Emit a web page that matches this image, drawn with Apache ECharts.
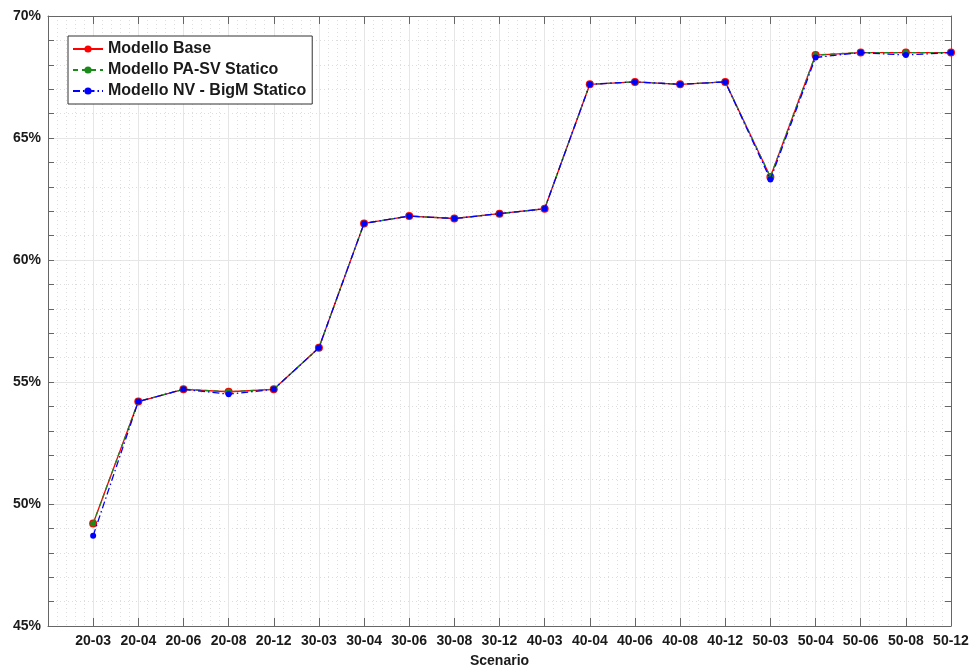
<!DOCTYPE html>
<html>
<head>
<meta charset="utf-8">
<script src="https://cdn.jsdelivr.net/npm/echarts@6/dist/echarts.min.js"></script>
<style>html,body{margin:0;padding:0;background:#fff;}#c{width:972px;height:668px;}</style>
</head>
<body>
<div id="c"></div>
<script>
const categories = ['20-03','20-04','20-06','20-08','20-12','30-03','30-04','30-06','30-08','30-12','40-03','40-04','40-06','40-08','40-12','50-03','50-04','50-06','50-08','50-12'];
const base   = [49.2,54.2,54.7,54.6,54.7,56.4,61.5,61.8,61.7,61.9,62.1,67.2,67.3,67.2,67.3,63.4,68.4,68.5,68.5,68.5];
const pasv   = [49.2,54.2,54.7,54.6,54.7,56.4,61.5,61.8,61.7,61.9,62.1,67.2,67.3,67.2,67.3,63.4,68.4,68.5,68.5,68.5];
const nvbigm = [48.7,54.2,54.7,54.5,54.7,56.4,61.5,61.8,61.7,61.9,62.1,67.2,67.3,67.2,67.3,63.3,68.3,68.5,68.4,68.5];
const seriesNames = ['Modello Base','Modello PA-SV Statico','Modello NV - BigM Statico'];
const xAxisName = 'Scenario';

const toPts = arr => arr.map((v,i)=>[i+1,v]);
const axisCol = '#666';
const txt = {color:'#1a1a1a', fontWeight:'bold', fontSize:14, fontFamily:'Liberation Sans, Arial, sans-serif'};
const minorGrid = {show:true, lineStyle:{color:'#dedede', width:1, type:[1,3]}};
const majorGrid = {show:true, lineStyle:{color:'#e6e6e6', width:1}};

const chart = echarts.init(document.getElementById('c'), null, {renderer:'canvas'});
chart.setOption({
  animation:false,
  backgroundColor:'#fff',
  grid:{left:48, right:21, top:16, bottom:42, show:false, containLabel:false, outerBoundsMode:'none'},
  legend:{
    left:68, top:36, orient:'vertical', itemGap:5, itemWidth:30, itemHeight:9,
    padding:[5,6,5,4], borderColor:'#333', borderWidth:1, backgroundColor:'#fff',
    textStyle:Object.assign({}, txt, {fontSize:16}),
    data:seriesNames
  },
  xAxis:[{
    type:'value', min:0, max:20, interval:1, position:'bottom',
    name:xAxisName, nameLocation:'middle', nameGap:28, nameTextStyle:txt,
    axisLine:{show:true, lineStyle:{color:axisCol, width:1}},
    axisTick:{show:true, inside:true, length:8, lineStyle:{color:axisCol}},
    minorTick:{show:false, splitNumber:5},
    axisLabel:Object.assign({}, txt, {margin:8, formatter:v=> (v>=1 && v<=20 && Number.isInteger(v)) ? categories[v-1] : ''}),
    splitLine:majorGrid,
    minorSplitLine:minorGrid
  },{
    type:'value', min:0, max:20, interval:1, position:'top',
    axisLine:{show:true, lineStyle:{color:axisCol, width:1}},
    axisTick:{show:true, inside:true, length:8, lineStyle:{color:axisCol}},
    axisLabel:{show:false}, splitLine:{show:false}
  }],
  yAxis:[{
    type:'value', min:45, max:70, interval:5, position:'left',
    axisLine:{show:true, lineStyle:{color:axisCol, width:1}},
    axisTick:{show:false},
    minorTick:{show:false, splitNumber:5},
    axisLabel:Object.assign({}, txt, {margin:7, formatter:'{value}%'}),
    splitLine:majorGrid,
    minorSplitLine:minorGrid
  },{
    type:'value', min:45, max:70, interval:1, position:'left',
    axisLine:{show:false},
    axisTick:{show:true, inside:true, length:6, lineStyle:{color:axisCol}},
    axisLabel:{show:false}, splitLine:{show:false}
  },{
    type:'value', min:45, max:70, interval:1, position:'right',
    axisLine:{show:true, lineStyle:{color:axisCol, width:1}},
    axisTick:{show:true, inside:true, length:6, lineStyle:{color:axisCol}},
    axisLabel:{show:false}, splitLine:{show:false}
  }],
  series:[
    {name:seriesNames[0], type:'line', data:toPts(base), color:'#ff0000',
     symbol:'circle', symbolSize:8, lineStyle:{width:1.3, type:'solid'}, itemStyle:{color:'#ff0000'}, z:2},
    {name:seriesNames[1], type:'line', data:toPts(pasv), color:'#1a8a1a',
     symbol:'circle', symbolSize:6, lineStyle:{width:1.3, type:[5,4]}, itemStyle:{color:'#1a8a1a'}, z:3},
    {name:seriesNames[2], type:'line', data:toPts(nvbigm), color:'#0000ff',
     symbol:'circle', symbolSize:6, lineStyle:{width:1.3, type:[7,3,1.5,3]}, itemStyle:{color:'#0000ff'}, z:4}
  ]
});
</script>
</body>
</html>
